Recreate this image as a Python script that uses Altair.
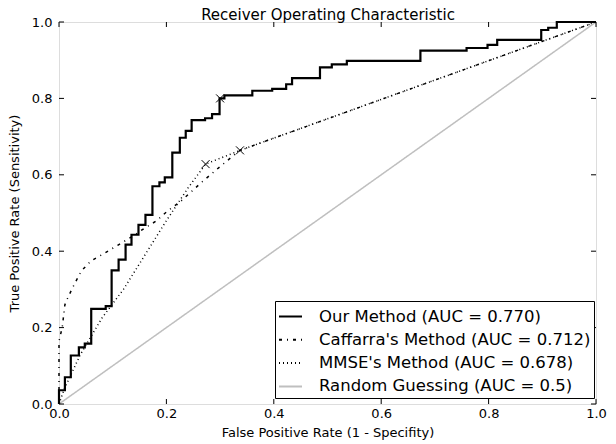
import altair as alt
import pandas as pd

ticks = [0.0, 0.2, 0.4, 0.6, 0.8, 1.0]
title_text = "Receiver Operating Characteristic"
method_names = [
    "Our Method (AUC = 0.770)",
    "Caffarra's Method (AUC = 0.712)",
    "MMSE's Method (AUC = 0.678)",
    "Random Guessing (AUC = 0.5)",
]

# Our method: step curve, (fpr where the jump happens, new tpr)
our_fpr = [0.0, 0.011, 0.022, 0.037, 0.048, 0.060, 0.087, 0.098, 0.111, 0.124,
           0.135, 0.148, 0.161, 0.174, 0.187, 0.197, 0.211, 0.225, 0.236, 0.247,
           0.272, 0.285, 0.299, 0.308, 0.360, 0.397, 0.423, 0.434, 0.486, 0.508,
           0.536, 0.673, 0.759, 0.798, 0.816, 0.898, 0.911, 0.927, 1.0]
our_tpr = [0.036, 0.070, 0.127, 0.148, 0.158, 0.249, 0.256, 0.350, 0.378, 0.417,
           0.443, 0.469, 0.495, 0.570, 0.580, 0.593, 0.658, 0.697, 0.715, 0.743,
           0.748, 0.759, 0.800, 0.808, 0.820, 0.825, 0.837, 0.853, 0.881, 0.889,
           0.898, 0.925, 0.932, 0.940, 0.953, 0.979, 0.985, 1.0, 1.0]

caf_fpr = [0.0, 0.0, 0.006, 0.011, 0.017, 0.029, 0.042, 0.060, 0.085, 0.110,
           0.138, 0.158, 0.181, 0.202, 0.227, 0.266, 0.308, 0.337, 1.0]
caf_tpr = [0.0, 0.165, 0.200, 0.260, 0.280, 0.315, 0.349, 0.375, 0.395, 0.416,
           0.440, 0.459, 0.479, 0.505, 0.531, 0.581, 0.631, 0.664, 1.0]

mmse_fpr = [0.0, 0.010, 0.040, 0.080, 0.120, 0.160, 0.200, 0.240, 0.273, 0.337, 1.0]
mmse_tpr = [0.0, 0.040, 0.130, 0.225, 0.300, 0.390, 0.480, 0.565, 0.628, 0.664, 1.0]

rand_fpr = [0.0, 1.0]
rand_tpr = [0.0, 1.0]

marker_fpr = [0.300, 0.337, 0.273]
marker_tpr = [0.800, 0.664, 0.628]

# expand the step list into vertices
our_x, our_y = [0.0], [0.0]
prev = 0.0
for fx, ty in zip(our_fpr, our_tpr):
    our_x += [fx, fx]
    our_y += [prev, ty]
    prev = ty

rows = []
for i, (a, b) in enumerate(zip(our_x, our_y)):
    rows.append({"fpr": a, "tpr": b, "method": method_names[0], "idx": i})
others = []
for name, xs, ys in [(method_names[1], caf_fpr, caf_tpr),
                     (method_names[2], mmse_fpr, mmse_tpr),
                     (method_names[3], rand_fpr, rand_tpr)]:
    for i, (a, b) in enumerate(zip(xs, ys)):
        others.append({"fpr": a, "tpr": b, "method": name, "idx": i})

our_df = pd.DataFrame(rows)
oth_df = pd.DataFrame(others)
mk_df = pd.DataFrame({"fpr": marker_fpr, "tpr": marker_tpr})
tick_df = pd.DataFrame({"t": ticks})

FONT = "DejaVu Sans"
W, H = 537, 382

xscale = alt.Scale(domain=[0, 1], nice=False, zero=False)
yscale = alt.Scale(domain=[0, 1], nice=False, zero=False)
xaxis = alt.Axis(values=ticks, format=".1f", title="False Positive Rate (1 - Specifity)",
                 grid=False, ticks=False, tickSize=0, domain=False, labelPadding=3,
                 labelFontSize=13, titleFontSize=13, labelFont=FONT, titleFont=FONT,
                 titleFontWeight="normal", labelColor="black", titleColor="black",
                 titlePadding=6, labelFlush=False)
yaxis = alt.Axis(values=ticks, format=".1f", title="True Positive Rate (Sensitivity)",
                 grid=False, ticks=False, tickSize=0, domain=False, labelPadding=7,
                 labelFontSize=13, titleFontSize=13, labelFont=FONT, titleFont=FONT,
                 titleFontWeight="normal", labelColor="black", titleColor="black",
                 titlePadding=10, labelFlush=False)

leg = alt.Legend(title=None, orient="none", legendX=216, legendY=279,
                 fillColor="white", strokeColor="black", padding=3,
                 symbolType="stroke", symbolSize=529, symbolStrokeWidth=2,
                 labelFontSize=16.5, labelFont=FONT, labelColor="black",
                 labelOffset=16, rowPadding=2.3, labelLimit=0, cornerRadius=0)

color = alt.Color("method:N", scale=alt.Scale(domain=method_names,
                  range=["black", "black", "black", "#bfbfbf"]), legend=leg)
dash = alt.StrokeDash("method:N", scale=alt.Scale(domain=method_names,
                      range=[[1, 0], [3, 5, 1, 5], [1, 3], [1, 0]]), legend=leg)

x_enc = alt.X("fpr:Q", scale=xscale, axis=xaxis)
y_enc = alt.Y("tpr:Q", scale=yscale, axis=yaxis)

rand_line = alt.Chart(oth_df).mark_line(strokeWidth=1.5).encode(
    x=x_enc, y=y_enc, color=color, strokeDash=dash, order="idx:Q", detail="method:N")
our_line = alt.Chart(our_df).mark_line(strokeWidth=2.2).encode(
    x=x_enc, y=y_enc, color=color, strokeDash=dash, order="idx:Q")
markers = alt.Chart(mk_df).mark_point(shape="M-1,-1L1,1M1,-1L-1,1", size=64,
                                      filled=False, color="black", strokeWidth=1,
                                      opacity=1).encode(x="fpr:Q", y="tpr:Q")

tb = alt.Chart(tick_df).mark_rule(color="black", strokeWidth=1).encode(
    x=alt.X("t:Q"), y=alt.value(H), y2=alt.value(H - 5))
tt = alt.Chart(tick_df).mark_rule(color="black", strokeWidth=1).encode(
    x=alt.X("t:Q"), y=alt.value(0), y2=alt.value(5))
tl = alt.Chart(tick_df).mark_rule(color="black", strokeWidth=1).encode(
    y=alt.Y("t:Q"), x=alt.value(0), x2=alt.value(5))
tr = alt.Chart(tick_df).mark_rule(color="black", strokeWidth=1).encode(
    y=alt.Y("t:Q"), x=alt.value(W), x2=alt.value(W - 5))

title = alt.Chart(pd.DataFrame({"t": [title_text]})).mark_text(
    font=FONT, fontSize=15, color="black", align="center", baseline="alphabetic"
).encode(text="t:N", x=alt.value(W / 2 + 0.5), y=alt.value(-2.5))

chart = alt.layer(rand_line, our_line, markers, tb, tt, tl, tr, title).properties(
    width=W, height=H,
    padding={"left": 51, "top": 14, "right": 12, "bottom": 36},
    autosize=alt.AutoSizeParams(type="none"),
).configure_view(stroke="black", strokeWidth=1).configure(background="white")

chart.save("out.html", embed_options={"renderer": "svg", "actions": False})
